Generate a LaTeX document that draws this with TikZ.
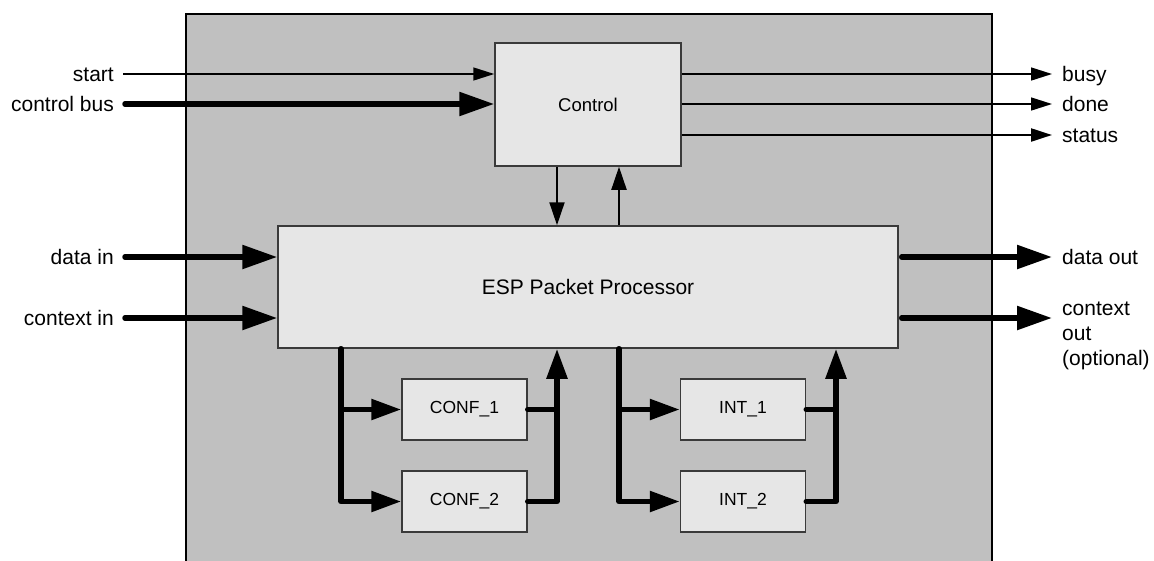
\documentclass[tikz,border=0pt]{standalone}
\usepackage{fontspec}
\setmainfont{Liberation Sans}
\usetikzlibrary{arrows.meta}
\definecolor{outerfill}{HTML}{C0C0C0}
\definecolor{boxfill}{HTML}{E6E6E6}
\definecolor{boxline}{HTML}{3A3A3A}
\begin{document}
\begin{tikzpicture}[x=1pt,y=-1pt,
  blk/.style={draw=boxline, line width=1.5pt, fill=boxfill, inner sep=0pt},
  lbl/.style={inner sep=0pt, font=\fontsize{21}{25}\selectfont},
  thinarrow/.style={line width=1.5pt, -{Triangle[length=21pt,width=13pt]}},
  ctlarrow/.style={line width=2pt, -{Triangle[length=23pt,width=15pt]}},
  bus/.style={line width=5.5pt, line cap=round, line join=round},
  bigtip/.style={-{Triangle[length=35pt,width=23pt]}},
  midtip/.style={-{Triangle[length=30pt,width=20pt]}}]
\useasboundingbox (0,0) rectangle (1154,560);
\clip (0,0) rectangle (1154,560);
% outer block
\node[draw=black, line width=2pt, fill=outerfill, minimum width=806pt, minimum height=580pt, anchor=north west, inner sep=0pt] (outer) at (185,13) {};
% blocks
\node[blk, minimum width=186pt, minimum height=123pt, font=\fontsize{18.5}{22}\selectfont] (ctrl) at (588,104.5) {Control};
\node[blk, minimum width=620pt, minimum height=122pt, font=\fontsize{21}{25}\selectfont] (esp) at (588,287) {ESP Packet Processor};
\node[blk, minimum width=125pt, minimum height=61pt, font=\fontsize{17.5}{21}\selectfont] (conf1) at (464.5,409.5) {CONF\_1};
\node[blk, minimum width=125pt, minimum height=61pt, font=\fontsize{17.5}{21}\selectfont] (conf2) at (464.5,501.5) {CONF\_2};
\node[blk, minimum width=125pt, minimum height=61pt, font=\fontsize{17.5}{21}\selectfont] (int1) at (743,409.5) {INT\_1};
\node[blk, minimum width=125pt, minimum height=61pt, font=\fontsize{17.5}{21}\selectfont] (int2) at (743,501.5) {INT\_2};
% labels (baselines 7pt below their lines)
\node[lbl, anchor=base east] (startl) at (114,81) {start};
\node[lbl, anchor=base east] (cbusl) at (114,111) {control bus};
\node[lbl, anchor=base east] (dinl) at (114,264) {data in};
\node[lbl, anchor=base east] (cinl) at (114,325) {context in};
\node[lbl, anchor=base west] (busyl) at (1062,81) {busy};
\node[lbl, anchor=base west] (donel) at (1062,111) {done};
\node[lbl, anchor=base west] (statusl) at (1062,142) {status};
\node[lbl, anchor=base west] (doutl) at (1062,264) {data out};
\node[lbl, anchor=west, align=left] (coutl) at (1062,336) {context\\out\\(optional)};
% helper positions
\coordinate (bx1) at (341,0);
\coordinate (bx2) at (557,0);
\coordinate (bx3) at (619,0);
\coordinate (bx4) at (836,0);
\coordinate (lx) at (123,0);
\coordinate (tipx) at (1052,0);
\coordinate (y1) at (0,74);
\coordinate (y2) at (0,104);
\coordinate (y3) at (0,135);
\coordinate (y4) at (0,257);
\coordinate (y5) at (0,318);
% control inputs/outputs
\draw[thinarrow] (lx |- y1) -- (ctrl.west |- y1);
\draw[bus, bigtip] ([xshift=2pt]lx |- y2) -- (ctrl.west |- y2);
\draw[thinarrow] (ctrl.east |- y1) -- (tipx |- y1);
\draw[thinarrow] (ctrl.east |- y2) -- (tipx |- y2);
\draw[thinarrow, line width=2.2pt] (ctrl.east |- y3) -- (tipx |- y3);
% control <-> esp
\draw[ctlarrow] (bx2 |- ctrl.south) -- (bx2 |- esp.north);
\draw[ctlarrow] (bx3 |- esp.north) -- (bx3 |- ctrl.south);
% data paths
\draw[bus, bigtip] ([xshift=2pt]lx |- y4) -- (esp.west |- y4);
\draw[bus, bigtip] ([xshift=2pt]lx |- y5) -- (esp.west |- y5);
\draw[bus, bigtip] ([xshift=3pt]esp.east |- y4) -- (tipx |- y4);
\draw[bus, bigtip] ([xshift=3pt]esp.east |- y5) -- (tipx |- y5);
% CONF branch
\draw[bus, midtip] (bx1 |- esp.south) -- (bx1 |- conf2.west) -- (conf2.west);
\draw[bus, midtip] (bx1 |- conf1.west) -- (conf1.west);
\draw[bus] (conf1.east) -- (bx2 |- conf1.east);
\draw[bus, midtip] (conf2.east) -- (bx2 |- conf2.east) -- (bx2 |- esp.south);
% INT branch
\draw[bus, midtip] (bx3 |- esp.south) -- (bx3 |- int2.west) -- (int2.west);
\draw[bus, midtip] (bx3 |- int1.west) -- (int1.west);
\draw[bus] (int1.east) -- (bx4 |- int1.east);
\draw[bus, midtip] (int2.east) -- (bx4 |- int2.east) -- (bx4 |- esp.south);
\end{tikzpicture}
\end{document}
